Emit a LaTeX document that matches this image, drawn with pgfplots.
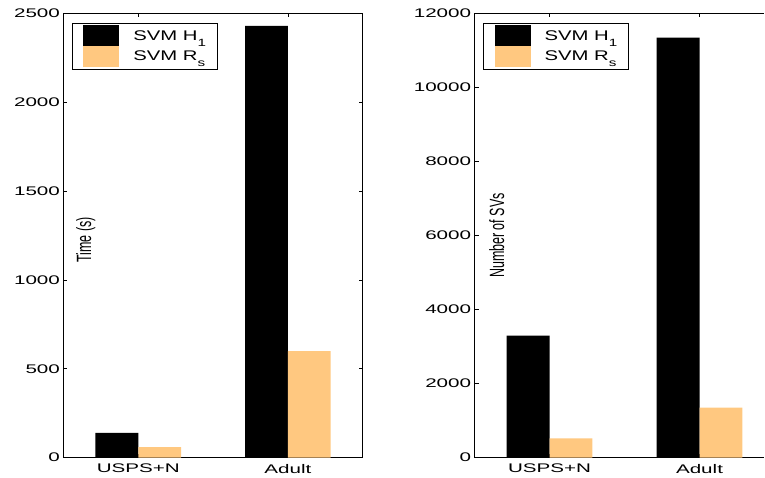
\documentclass[border=0pt]{standalone}
\usepackage{fontspec}
\setmainfont[FakeStretch=1.65]{Liberation Sans}
\newfontfamily\plainsans{Liberation Sans}
\newfontfamily\legendsans[FakeStretch=1.45]{Liberation Sans}
\usepackage{pgfplots}
\pgfplotsset{compat=1.18}
\definecolor{barorange}{RGB}{255,200,128}

% lowered subscript, the way the original legend draws it
\newcommand{\sub}[1]{\raisebox{-6pt}[0pt][0pt]{\fontsize{10.5}{12}\selectfont #1}}
% y label: upright text, stretched across like the rest of the figure
\newcommand{\ylab}[1]{{\plainsans\fontsize{12.5}{15}\selectfont\scalebox{1}[1.65]{#1}}}
\newcommand{\leg}[1]{\hspace*{14pt}#1}

\pgfplotsset{
  twobars/.style={
    scale only axis,
    height=444.5pt,
    ybar=0pt, bar width=0.286,
    xmin=0.5, ymin=0,
    xtick={1,2}, xticklabels={USPS+N, Adult},
    tick align=inside,
    axis line style={line width=1.1pt},
    tick style={line width=0.8pt, black},
    major tick length=4pt,
    ticklabel style={font=\fontsize{12.5}{15}\selectfont},
    xticklabel style={yshift=-3pt},
    /pgf/number format/assume math mode=true,
    /pgf/number format/1000 sep={},
    scaled y ticks=false,
    legend cell align=left,
    legend style={draw=black, line width=0.8pt,
      inner xsep=11pt, inner ysep=2pt, row sep=0pt,
      nodes={inner sep=0pt}, font=\legendsans\fontsize{14}{16}\selectfont},
    legend image code/.code={\fill[#1] (0pt,-8.5pt) rectangle (36pt,8.5pt);
      \path (0pt,-10.5pt) rectangle (36pt,10.5pt);},
    ylabel style={anchor=center},
  },
}

\begin{document}
\begin{tikzpicture}
% page frame of the original figure
\path (-63.5pt,-20pt) rectangle (701.5pt,458pt);

% left: training time
\begin{axis}[twobars, width=299.5pt, xmax=2.5, tick pos=both,
    ymax=2500, ytick={0,500,...,2500},
    ylabel={\ylab{Time (s)}},
    ylabel style={at={(rel axis cs:0.075,0.49)}},
    legend style={at={(0.0284,0.9786)}, anchor=north west},
]
\addplot[fill=black, draw=none] coordinates {(1,140) (2,2430)};
\addplot[fill=barorange, draw=none] coordinates {(1,60) (2,600)};
\addlegendentry{\leg{SVM H\sub{1}}}
\addlegendentry{\leg{SVM R\sub{s}}}
\end{axis}

% right: number of support vectors (cut at the right edge, like the original)
\begin{axis}[twobars, at={(411.5pt,0pt)}, anchor=south west,
    width=290pt, xmax=2.4333,
    every non boxed x axis/.style={}, every non boxed y axis/.style={},
    axis x line*=box, axis y line*=left,
    x axis line style={-}, y axis line style={-},
    ymax=12000, ytick={0,2000,...,12000},
    ylabel={\ylab{Number of SVs}},
    ylabel style={at={(rel axis cs:0.0759,0.50)}},
    legend style={at={(0.0293,0.9786)}, anchor=north west},
]
\addplot[fill=black, draw=none] coordinates {(1,3300) (2,11350)};
\addplot[fill=barorange, draw=none] coordinates {(1,520) (2,1350)};
\addlegendentry{\leg{SVM H\sub{1}}}
\addlegendentry{\leg{SVM R\sub{s}}}
\end{axis}
\end{tikzpicture}
\end{document}
